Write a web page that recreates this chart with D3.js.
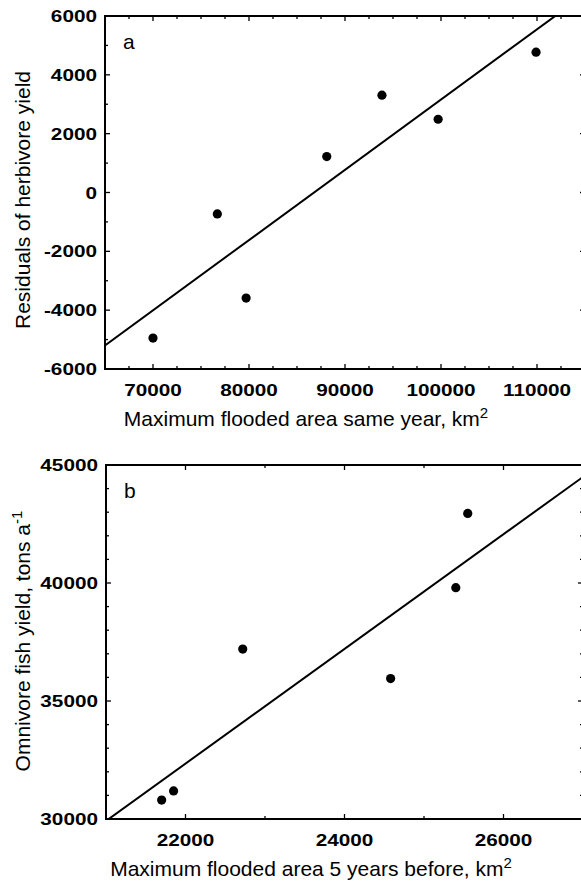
<!DOCTYPE html>
<html>
<head>
<meta charset="utf-8">
<script src="https://cdn.jsdelivr.net/npm/d3@7"></script>
<style>
  body { margin: 0; background: #fff; }
  text { font-family: "Liberation Sans", Arial, sans-serif; fill: #000; }
</style>
</head>
<body>
<svg id="chart" width="581" height="889"></svg>
<script>
// panel a: residuals of herbivore yield vs flooded area same year
const floodSameYear = [70000, 76700, 79700, 88100, 93850, 99700, 109900];
const herbivoreResiduals = [-4950, -730, -3590, 1220, 3310, 2490, 4770];
const xTicksA = [70000, 80000, 90000, 100000, 110000];
const yTicksA = [-6000, -4000, -2000, 0, 2000, 4000, 6000];

// panel b: omnivore fish yield vs flooded area 5 years before
const flood5YearsBefore = [21700, 21850, 22720, 24580, 25400, 25550];
const omnivoreYield = [30800, 31190, 37200, 35950, 39800, 42950];
const xTicksB = [22000, 24000, 26000];
const yTicksB = [30000, 35000, 40000, 45000];

const style = {
  stretch: 1.22,
  tickFont: 17,
  titleFont: 21,
  frameWidth: 2,
  lineWidth: 2,
  radius: 4.6
}

const svg = d3.select('#chart');

// least squares fit, returns [slope, intercept]
function fit (xs, ys) {
  const mx = d3.mean(xs);
  const my = d3.mean(ys);
  const sxy = d3.sum(xs, (v, i) => (v - mx) * (ys[i] - my));
  const sxx = d3.sum(xs, v => (v - mx) * (v - mx));
  const slope = sxy / sxx;
  return [slope, my - slope * mx];
}

function panel (opts) {
  const x = d3.scaleLinear().domain(opts.xDomain).range([opts.left, opts.right]);
  const y = d3.scaleLinear().domain(opts.yDomain).range([opts.bottom, opts.top]);

  const g = svg.append('g').attr('class', 'panel');

  const clipId = 'clip-' + opts.letter;
  g.append('clipPath')
    .attr('id', clipId)
    .append('rect')
    .attr('x', opts.left)
    .attr('y', opts.top)
    .attr('width', opts.right - opts.left)
    .attr('height', opts.bottom - opts.top);

  // minor / major tick marks on all four sides, pointing inward
  const xMinor = d3.range(opts.xDomain[0], opts.xDomain[1] + 1, opts.xStep);
  const yMinor = d3.range(opts.yDomain[0], opts.yDomain[1] + 1, opts.yStep);

  const ticks = g.append('g')
    .attr('stroke', '#000')
    .attr('stroke-width', 1.3);

  xMinor.forEach(v => {
    const len = opts.xTicks.includes(v) ? 5 : 3;
    ticks.append('line')
      .attr('x1', x(v)).attr('x2', x(v))
      .attr('y1', opts.bottom).attr('y2', opts.bottom - len);
    ticks.append('line')
      .attr('x1', x(v)).attr('x2', x(v))
      .attr('y1', opts.top).attr('y2', opts.top + len);
  });

  yMinor.forEach(v => {
    const len = opts.yTicks.includes(v) ? 5 : 3;
    ticks.append('line')
      .attr('y1', y(v)).attr('y2', y(v))
      .attr('x1', opts.left).attr('x2', opts.left + len);
    ticks.append('line')
      .attr('y1', y(v)).attr('y2', y(v))
      .attr('x1', opts.right).attr('x2', opts.right - len);
  });

  g.append('rect')
    .attr('x', opts.left)
    .attr('y', opts.top)
    .attr('width', opts.right - opts.left)
    .attr('height', opts.bottom - opts.top)
    .attr('fill', 'none')
    .attr('stroke', '#000')
    .attr('stroke-width', style.frameWidth);

  // tick labels
  g.selectAll('.xlabel')
    .data(opts.xTicks)
    .enter()
    .append('text')
    .attr('class', 'xlabel')
    .attr('transform', d => `translate(${x(d)}, ${opts.bottom + 27}) scale(${style.stretch}, 1)`)
    .attr('text-anchor', 'middle')
    .style('font-size', style.tickFont + 'px')
    .style('font-weight', 'bold')
    .text(d => d);

  g.selectAll('.ylabel')
    .data(opts.yTicks)
    .enter()
    .append('text')
    .attr('class', 'ylabel')
    .attr('transform', d => `translate(${opts.left - 8}, ${y(d) + 6}) scale(${style.stretch}, 1)`)
    .attr('text-anchor', 'end')
    .style('font-size', style.tickFont + 'px')
    .style('font-weight', 'bold')
    .text(d => d);

  // axis titles
  const xTitle = g.append('text')
    .attr('x', opts.xTitleAt)
    .attr('y', opts.bottom + 57)
    .attr('text-anchor', 'middle')
    .style('font-size', style.titleFont + 'px')
    .text(opts.xTitle[0]);
  xTitle.append('tspan')
    .attr('dy', -8)
    .style('font-size', '15px')
    .text(opts.xTitle[1]);

  const yTitle = g.append('text')
    .attr('transform', `translate(30, ${opts.yTitleAt}) rotate(-90)`)
    .attr('text-anchor', 'middle')
    .style('font-size', style.titleFont + 'px')
    .text(opts.yTitle[0]);
  if (opts.yTitle[1]) {
    yTitle.append('tspan')
      .attr('dy', -8)
      .style('font-size', '15px')
      .text(opts.yTitle[1]);
  }

  g.append('text')
    .attr('x', opts.left + 18)
    .attr('y', opts.top + 33)
    .style('font-size', style.titleFont + 'px')
    .text(opts.letter);

  // regression line
  const [slope, intercept] = fit(opts.xs, opts.ys);
  const line = d3.line()
    .x(d => x(d))
    .y(d => y(slope * d + intercept));

  g.append('path')
    .attr('clip-path', `url(#${clipId})`)
    .attr('d', line(opts.xDomain))
    .attr('fill', 'none')
    .attr('stroke', '#000')
    .attr('stroke-width', style.lineWidth);

  g.selectAll('.dot')
    .data(opts.xs)
    .enter()
    .append('circle')
    .attr('class', 'dot')
    .attr('cx', d => x(d))
    .attr('cy', (d, i) => y(opts.ys[i]))
    .attr('r', style.radius)
    .attr('fill', '#000');
}

panel({
  letter: 'a',
  xs: floodSameYear,
  ys: herbivoreResiduals,
  xDomain: [65000, 115000],
  yDomain: [-6000, 6000],
  xStep: 2500,
  yStep: 1000,
  xTicks: xTicksA,
  yTicks: yTicksA,
  left: 105, right: 585, top: 16, bottom: 369,
  xTitleAt: 306,
  yTitleAt: 200,
  xTitle: ['Maximum flooded area same year, km', '2'],
  yTitle: ['Residuals of herbivore yield']
});

panel({
  letter: 'b',
  xs: flood5YearsBefore,
  ys: omnivoreYield,
  xDomain: [21000, 27000],
  yDomain: [30000, 45000],
  xStep: 1000,
  yStep: 1000,
  xTicks: xTicksB,
  yTicks: yTicksB,
  left: 106, right: 583, top: 465, bottom: 819,
  xTitleAt: 311,
  yTitleAt: 641,
  xTitle: ['Maximum flooded area 5 years before, km', '2'],
  yTitle: ['Omnivore fish yield, tons a', '-1']
});
</script>
</body>
</html>
